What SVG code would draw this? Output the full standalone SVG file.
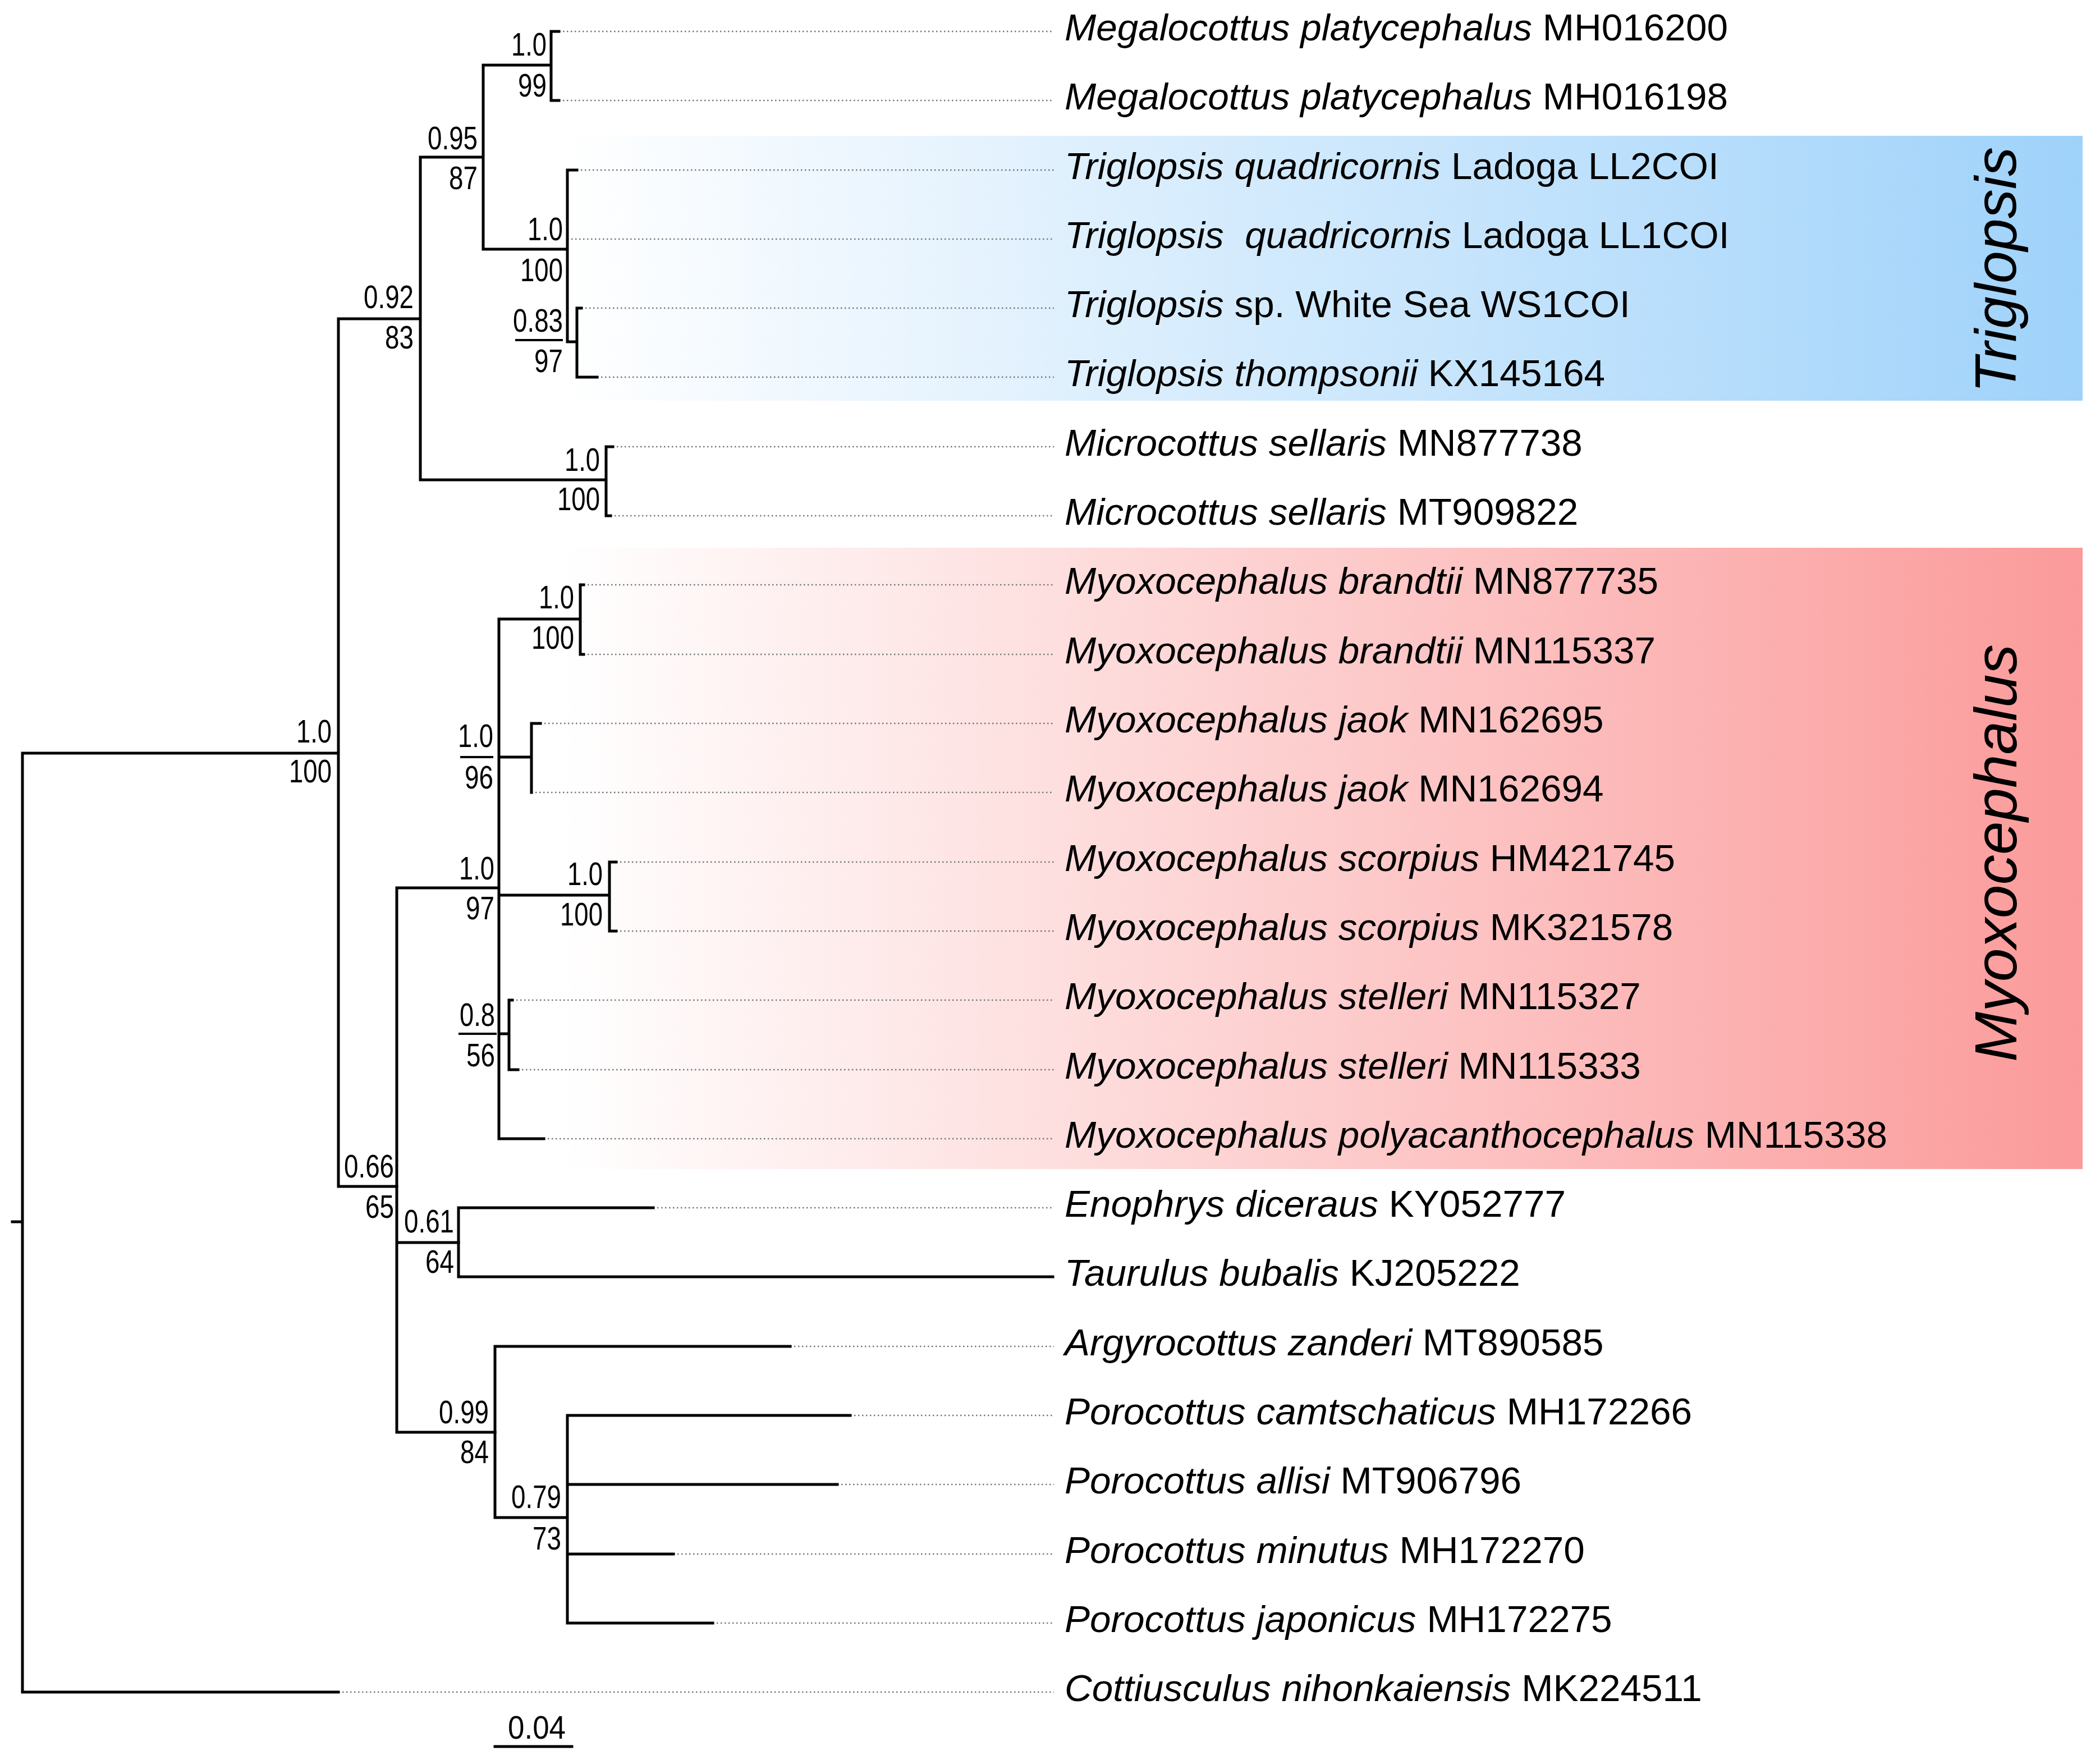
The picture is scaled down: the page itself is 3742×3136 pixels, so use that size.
<svg xmlns="http://www.w3.org/2000/svg" width="3742" height="3136" viewBox="0 0 3742 3136">
<defs>
<linearGradient id="gBlue" x1="0" y1="0" x2="1" y2="0">
<stop offset="0" stop-color="#ffffff"/>
<stop offset="1" stop-color="#9fd2fa"/>
</linearGradient>
<linearGradient id="gRed" x1="0" y1="0" x2="1" y2="0">
<stop offset="0" stop-color="#ffffff"/>
<stop offset="1" stop-color="#fb9a9a"/>
</linearGradient>
<style>
.br{fill:none;stroke:#000;stroke-width:5;stroke-linecap:square}
.ul{fill:none;stroke:#000;stroke-width:4}
.dot{fill:none;stroke:#777;stroke-width:2.5;stroke-dasharray:2.5 4.5}
.tx{font-family:"Liberation Sans",Arial,sans-serif;font-size:67.5px;fill:#000}
.it{font-style:italic}
.lb{font-family:"Liberation Sans",Arial,sans-serif;font-size:58px;fill:#000;text-anchor:end}
.clade{font-family:"Liberation Sans",Arial,sans-serif;font-style:italic;fill:#000;text-anchor:middle}
</style>
</defs>
<rect width="3742" height="3136" fill="#fff"/>
<g id="clade-triglopsis">
<rect x="1000" y="242" width="2711" height="472" fill="url(#gBlue)"/>
<text class="clade" font-size="104" x="3592" y="481" transform="rotate(-90 3592 481)" textLength="438" lengthAdjust="spacingAndGlyphs">Triglopsis</text>
</g>
<g id="clade-myoxocephalus">
<rect x="1000" y="976" width="2711" height="1107" fill="url(#gRed)"/>
<text class="clade" font-size="106" x="3593" y="1520" transform="rotate(-90 3593 1520)" textLength="744" lengthAdjust="spacingAndGlyphs">Myoxocephalus</text>
</g>
<g id="connectors">
<g class="dot">
<path d="M996,56H1878M996,179H1878M1028,303H1878M1011,426H1878M1036,549H1878M1064,672H1878M1092,796H1878M1088,919H1878M1040,1042H1878M1040,1166H1878M963,1289H1878M947,1412H1878M1098,1536H1878M1098,1659H1878M913,1782H1878M923,1906H1878M969,2029H1878M1164,2152H1878M1408,2399H1878M1515,2522H1878M1492,2645H1878M1200,2769H1878M1270,2892H1878M603,3015H1878"/>
</g>
<path class="br" d="M40,1342V3015M22,2177H40M40,1342H603M40,3015H603M603,568V2114M603,568H749M603,2114H707M749,280V855M749,280H861M749,855H1080M861,116V444M861,116H982M861,444H1011M982,56V179M982,56H996M982,179H996M1011,303V609M1011,303H1028M1011,609H1028M1028,549V672M1028,549H1036M1028,672H1064M1080,796V919M1080,796H1092M1080,919H1088"/>
<path class="br" d="M707,1582V2552M707,1582H889M707,2214H817M707,2552H882M889,1103V2029M889,1103H1034M889,1349H947M889,1595H1086M889,1842H907M889,2029H969M1034,1042V1166M1034,1042H1040M1034,1166H1040M947,1289V1412M947,1289H963M1086,1536V1659M1086,1536H1098M1086,1659H1098M907,1782V1906M907,1782H913M907,1906H923"/>
<path class="br" d="M817,2152V2275M817,2152H1164M817,2275H1876M882,2399V2704M882,2399H1408M882,2704H1011M1011,2522V2892M1011,2522H1515M1011,2645H1492M1011,2769H1200M1011,2892H1270"/>
<path class="ul" d="M918,606H1003M820,1349H879M817,1842H885"/>
</g>
<g id="leaves">
<g id="leaf01"><text class="tx" x="1897" y="72"><tspan class="it">Megalocottus platycephalus</tspan> MH016200</text></g>
<g id="leaf02"><text class="tx" x="1897" y="195"><tspan class="it">Megalocottus platycephalus</tspan> MH016198</text></g>
<g id="leaf03"><text class="tx" x="1897" y="319"><tspan class="it">Triglopsis quadricornis</tspan> Ladoga LL2COI</text></g>
<g id="leaf04"><text class="tx" x="1897" y="442" xml:space="preserve"><tspan class="it">Triglopsis  quadricornis</tspan> Ladoga LL1COI</text></g>
<g id="leaf05"><text class="tx" x="1897" y="565"><tspan class="it">Triglopsis</tspan> sp. White Sea WS1COI</text></g>
<g id="leaf06"><text class="tx" x="1897" y="688"><tspan class="it">Triglopsis thompsonii</tspan> KX145164</text></g>
<g id="leaf07"><text class="tx" x="1897" y="812"><tspan class="it">Microcottus sellaris</tspan> MN877738</text></g>
<g id="leaf08"><text class="tx" x="1897" y="935"><tspan class="it">Microcottus sellaris</tspan> MT909822</text></g>
<g id="leaf09"><text class="tx" x="1897" y="1058"><tspan class="it">Myoxocephalus brandtii</tspan> MN877735</text></g>
<g id="leaf10"><text class="tx" x="1897" y="1182"><tspan class="it">Myoxocephalus brandtii</tspan> MN115337</text></g>
<g id="leaf11"><text class="tx" x="1897" y="1305"><tspan class="it">Myoxocephalus jaok</tspan> MN162695</text></g>
<g id="leaf12"><text class="tx" x="1897" y="1428"><tspan class="it">Myoxocephalus jaok</tspan> MN162694</text></g>
<g id="leaf13"><text class="tx" x="1897" y="1552"><tspan class="it">Myoxocephalus scorpius</tspan> HM421745</text></g>
<g id="leaf14"><text class="tx" x="1897" y="1675"><tspan class="it">Myoxocephalus scorpius</tspan> MK321578</text></g>
<g id="leaf15"><text class="tx" x="1897" y="1798"><tspan class="it">Myoxocephalus stelleri</tspan> MN115327</text></g>
<g id="leaf16"><text class="tx" x="1897" y="1922"><tspan class="it">Myoxocephalus stelleri</tspan> MN115333</text></g>
<g id="leaf17"><text class="tx" x="1897" y="2045"><tspan class="it">Myoxocephalus polyacanthocephalus</tspan> MN115338</text></g>
<g id="leaf18"><text class="tx" x="1897" y="2168"><tspan class="it">Enophrys diceraus</tspan> KY052777</text></g>
<g id="leaf19"><text class="tx" x="1897" y="2291"><tspan class="it">Taurulus bubalis</tspan> KJ205222</text></g>
<g id="leaf20"><text class="tx" x="1897" y="2415"><tspan class="it">Argyrocottus zanderi</tspan> MT890585</text></g>
<g id="leaf21"><text class="tx" x="1897" y="2538"><tspan class="it">Porocottus camtschaticus</tspan> MH172266</text></g>
<g id="leaf22"><text class="tx" x="1897" y="2661"><tspan class="it">Porocottus allisi</tspan> MT906796</text></g>
<g id="leaf23"><text class="tx" x="1897" y="2785"><tspan class="it">Porocottus minutus</tspan> MH172270</text></g>
<g id="leaf24"><text class="tx" x="1897" y="2908"><tspan class="it">Porocottus japonicus</tspan> MH172275</text></g>
<g id="leaf25"><text class="tx" x="1897" y="3031"><tspan class="it">Cottiusculus nihonkaiensis</tspan> MK224511</text></g>
</g>
<g id="support">
<g id="n-megalocottus"><text class="lb" x="974" y="99" textLength="63" lengthAdjust="spacingAndGlyphs">1.0</text><text class="lb" x="974" y="172" textLength="51" lengthAdjust="spacingAndGlyphs">99</text></g>
<g id="n-095"><text class="lb" x="851" y="266" textLength="89" lengthAdjust="spacingAndGlyphs">0.95</text><text class="lb" x="851" y="337" textLength="51" lengthAdjust="spacingAndGlyphs">87</text></g>
<g id="n-triglopsis"><text class="lb" x="1003" y="428" textLength="63" lengthAdjust="spacingAndGlyphs">1.0</text><text class="lb" x="1003" y="501" textLength="76" lengthAdjust="spacingAndGlyphs">100</text></g>
<g id="n-083"><text class="lb" x="1003" y="591" textLength="89" lengthAdjust="spacingAndGlyphs">0.83</text><text class="lb" x="1003" y="663" textLength="51" lengthAdjust="spacingAndGlyphs">97</text></g>
<g id="n-092"><text class="lb" x="737" y="549" textLength="89" lengthAdjust="spacingAndGlyphs">0.92</text><text class="lb" x="737" y="621" textLength="51" lengthAdjust="spacingAndGlyphs">83</text></g>
<g id="n-microcottus"><text class="lb" x="1069" y="839" textLength="63" lengthAdjust="spacingAndGlyphs">1.0</text><text class="lb" x="1069" y="909" textLength="76" lengthAdjust="spacingAndGlyphs">100</text></g>
<g id="n-root"><text class="lb" x="591" y="1323" textLength="63" lengthAdjust="spacingAndGlyphs">1.0</text><text class="lb" x="591" y="1394" textLength="76" lengthAdjust="spacingAndGlyphs">100</text></g>
<g id="n-brandtii"><text class="lb" x="1023" y="1084" textLength="63" lengthAdjust="spacingAndGlyphs">1.0</text><text class="lb" x="1023" y="1156" textLength="76" lengthAdjust="spacingAndGlyphs">100</text></g>
<g id="n-jaok"><text class="lb" x="879" y="1331" textLength="63" lengthAdjust="spacingAndGlyphs">1.0</text><text class="lb" x="879" y="1405" textLength="51" lengthAdjust="spacingAndGlyphs">96</text></g>
<g id="n-myoxocephalus"><text class="lb" x="881" y="1567" textLength="63" lengthAdjust="spacingAndGlyphs">1.0</text><text class="lb" x="881" y="1638" textLength="51" lengthAdjust="spacingAndGlyphs">97</text></g>
<g id="n-scorpius"><text class="lb" x="1074" y="1577" textLength="63" lengthAdjust="spacingAndGlyphs">1.0</text><text class="lb" x="1074" y="1649" textLength="76" lengthAdjust="spacingAndGlyphs">100</text></g>
<g id="n-stelleri"><text class="lb" x="882" y="1828" textLength="63" lengthAdjust="spacingAndGlyphs">0.8</text><text class="lb" x="882" y="1900" textLength="51" lengthAdjust="spacingAndGlyphs">56</text></g>
<g id="n-066"><text class="lb" x="702" y="2098" textLength="89" lengthAdjust="spacingAndGlyphs">0.66</text><text class="lb" x="702" y="2170" textLength="51" lengthAdjust="spacingAndGlyphs">65</text></g>
<g id="n-061"><text class="lb" x="809" y="2196" textLength="89" lengthAdjust="spacingAndGlyphs">0.61</text><text class="lb" x="809" y="2268" textLength="51" lengthAdjust="spacingAndGlyphs">64</text></g>
<g id="n-099"><text class="lb" x="871" y="2536" textLength="89" lengthAdjust="spacingAndGlyphs">0.99</text><text class="lb" x="871" y="2607" textLength="51" lengthAdjust="spacingAndGlyphs">84</text></g>
<g id="n-079"><text class="lb" x="1000" y="2687" textLength="89" lengthAdjust="spacingAndGlyphs">0.79</text><text class="lb" x="1000" y="2761" textLength="51" lengthAdjust="spacingAndGlyphs">73</text></g>
</g>
<g id="scale-bar">
<path class="br" d="M882,3112H1019"/>
<text class="lb" x="1008" y="3098" font-size="66" textLength="103" lengthAdjust="spacingAndGlyphs">0.04</text>
</g>
</svg>
